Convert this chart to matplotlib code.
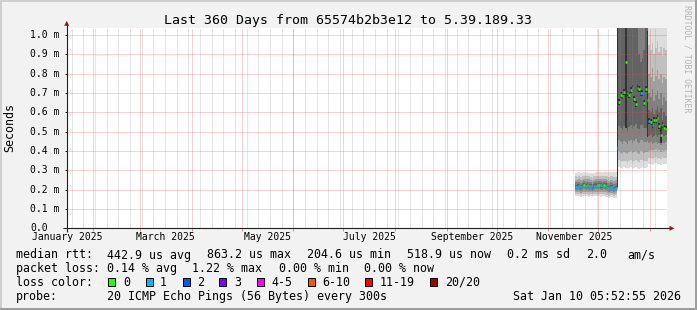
import numpy as np
import pandas as pd
import matplotlib
matplotlib.use("Agg")
import matplotlib.pyplot as plt
import matplotlib.dates as mdates
from matplotlib.patches import Rectangle, Polygon

W, H = 697, 310
MONO = "DejaVu Sans Mono"
plt.rcParams["font.family"] = [MONO, "DejaVu Sans"]

# graph window and plot area (pixels)
t_start = pd.Timestamp("2025-01-16")
t_end = pd.Timestamp("2026-01-11")
X0, X1 = 66.7, 666.7
Y0, Y1 = 228.3, 28.0
y_top = 1.036

title = "Last 360 Days from 65574b2b3e12 to 5.39.189.33"
ylabel = "Seconds"

yticks = [0.0, 0.1, 0.2, 0.3, 0.4, 0.5, 0.6, 0.7, 0.8, 0.9, 1.0]
ytick_labels = ["0.0", "0.1 m", "0.2 m", "0.3 m", "0.4 m", "0.5 m",
                "0.6 m", "0.7 m", "0.8 m", "0.9 m", "1.0 m"]
month_labels = ["January 2025", "March 2025", "May 2025", "July 2025",
                "September 2025", "November 2025"]
month_label_at = ["2025-01-16 12:00", "2025-03-16 12:00", "2025-05-16 12:00",
                  "2025-07-16 12:00", "2025-09-16 12:00", "2025-11-16 12:00"]

# daily values (ms), Nov 17 2025 .. Jan 10 2026 (25 days + 30 days)
first_day = "2025-11-17"
median = [0.214, 0.216, 0.218, 0.213, 0.217, 0.222, 0.220, 0.223, 0.221, 0.219,
          0.205, 0.218, 0.221, 0.222, 0.224, 0.222, 0.220, 0.223, 0.221, 0.210,
          0.207, 0.214, 0.212, 0.203, 0.210,
          0.416, 0.654, 0.689, 0.682, 0.706, 0.862, 0.698, 0.689, 0.717, 0.724,
          0.668, 0.644, 0.727, 0.720, 0.700, 0.700, 0.649, 0.720, 0.665, 0.554,
          0.549, 0.534, 0.561, 0.561, 0.571, 0.530, 0.485, 0.534, 0.520, 0.515]
loss = [1, 1, 1, 1, 1, 0, 1, 0, 1, 1, 1, 1, 1, 0, 0, 1, 1, 0, 1, 0, 1, 1, 1, 1, 1,
        1, 0, 0, 0, 0, 0, 0, 0, 0, 1, 0, 0, 0, 0, 1, 1, 0, 0, 0, 1,
        0, 1, 0, 0, 0, 0, 0, 0, 0, 0]

# smoke envelopes, outer -> inner
lo1 = [0.166, 0.165, 0.168, 0.164, 0.166, 0.167, 0.165, 0.166, 0.163, 0.165,
       0.160, 0.166, 0.167, 0.165, 0.166, 0.164, 0.165, 0.166, 0.163, 0.160,
       0.158, 0.162, 0.160, 0.157, 0.159,
       0.200, 0.318, 0.312, 0.308, 0.315, 0.310, 0.306, 0.312, 0.316, 0.309,
       0.313, 0.318, 0.311, 0.307, 0.314, 0.316, 0.310, 0.312, 0.315, 0.330,
       0.334, 0.328, 0.332, 0.336, 0.330, 0.333, 0.329, 0.335, 0.331, 0.334]
hi1 = [0.288, 0.286, 0.289, 0.285, 0.287, 0.290, 0.288, 0.289, 0.287, 0.286,
       0.284, 0.288, 0.289, 0.290, 0.291, 0.289, 0.288, 0.292, 0.290, 0.291,
       0.289, 0.292, 0.293, 0.290, 0.291,
       1.10, 1.10, 1.10, 1.10, 1.10, 1.10, 1.10, 1.10, 1.10, 1.10,
       1.10, 1.10, 1.10, 1.10, 1.10, 1.10, 1.10, 1.10, 1.10, 1.10,
       1.10, 1.10, 1.10, 1.10, 1.10, 1.10, 1.10, 1.10, 1.10, 1.10]
lo2 = [0.176, 0.175, 0.178, 0.174, 0.177, 0.178, 0.176, 0.177, 0.174, 0.175,
       0.170, 0.177, 0.178, 0.176, 0.177, 0.175, 0.176, 0.177, 0.174, 0.171,
       0.169, 0.173, 0.171, 0.168, 0.170,
       0.203, 0.352, 0.348, 0.343, 0.350, 0.346, 0.340, 0.349, 0.353, 0.345,
       0.350, 0.355, 0.347, 0.342, 0.351, 0.352, 0.346, 0.348, 0.350, 0.362,
       0.366, 0.360, 0.364, 0.368, 0.361, 0.365, 0.360, 0.367, 0.363, 0.366]
hi2 = [0.268, 0.266, 0.269, 0.265, 0.268, 0.271, 0.269, 0.270, 0.268, 0.267,
       0.262, 0.268, 0.270, 0.271, 0.272, 0.270, 0.269, 0.272, 0.270, 0.268,
       0.265, 0.269, 0.268, 0.264, 0.267,
       1.10, 1.10, 1.10, 1.10, 1.10, 1.10, 1.10, 1.10, 1.10, 1.10,
       1.10, 1.10, 1.10, 1.10, 1.10, 1.10, 1.10, 1.10, 1.10, 0.95,
       0.92, 0.96, 0.90, 0.93, 0.97, 0.91, 0.94, 0.89, 0.93, 0.92]
lo3 = [0.187, 0.186, 0.189, 0.185, 0.188, 0.190, 0.188, 0.189, 0.186, 0.187,
       0.181, 0.188, 0.190, 0.189, 0.190, 0.188, 0.188, 0.190, 0.187, 0.182,
       0.180, 0.184, 0.182, 0.178, 0.181,
       0.206, 0.398, 0.392, 0.386, 0.396, 0.390, 0.384, 0.394, 0.400, 0.389,
       0.396, 0.402, 0.392, 0.386, 0.398, 0.399, 0.391, 0.393, 0.395, 0.400,
       0.404, 0.398, 0.403, 0.408, 0.399, 0.404, 0.396, 0.406, 0.401, 0.405]
hi3 = [0.252, 0.251, 0.253, 0.249, 0.252, 0.256, 0.254, 0.256, 0.253, 0.252,
       0.244, 0.252, 0.255, 0.256, 0.257, 0.255, 0.254, 0.257, 0.255, 0.249,
       0.246, 0.251, 0.249, 0.244, 0.248,
       1.10, 1.10, 1.10, 1.10, 1.10, 1.10, 1.10, 1.10, 1.10, 1.10,
       1.10, 1.10, 1.10, 1.10, 1.10, 1.10, 1.10, 1.10, 1.10, 0.80,
       0.78, 0.83, 0.76, 0.79, 0.82, 0.77, 0.80, 0.75, 0.78, 0.77]
lo4 = [0.197, 0.197, 0.199, 0.195, 0.198, 0.201, 0.199, 0.201, 0.198, 0.198,
       0.191, 0.199, 0.201, 0.201, 0.202, 0.200, 0.199, 0.201, 0.199, 0.192,
       0.190, 0.195, 0.193, 0.188, 0.192,
       0.209, 0.455, 0.446, 0.438, 0.452, 0.445, 0.436, 0.450, 0.458, 0.442,
       0.452, 0.460, 0.447, 0.440, 0.455, 0.456, 0.446, 0.448, 0.450, 0.440,
       0.444, 0.436, 0.442, 0.448, 0.438, 0.443, 0.432, 0.446, 0.440, 0.444]
hi4 = [0.239, 0.239, 0.241, 0.236, 0.240, 0.244, 0.242, 0.244, 0.241, 0.240,
       0.231, 0.240, 0.243, 0.244, 0.245, 0.243, 0.242, 0.245, 0.243, 0.235,
       0.232, 0.238, 0.236, 0.230, 0.234,
       1.10, 1.10, 1.10, 1.10, 1.10, 1.10, 1.10, 1.10, 1.10, 1.10,
       1.10, 1.10, 1.10, 1.10, 1.10, 1.10, 1.10, 1.10, 1.10, 0.70,
       0.68, 0.72, 0.66, 0.69, 0.71, 0.67, 0.70, 0.64, 0.68, 0.66]
lo5 = [0.206, 0.207, 0.209, 0.204, 0.208, 0.212, 0.210, 0.212, 0.210, 0.209,
       0.198, 0.209, 0.211, 0.212, 0.214, 0.211, 0.210, 0.213, 0.211, 0.201,
       0.198, 0.205, 0.203, 0.196, 0.202,
       0.212, 0.530, 0.520, 0.508, 0.528, 0.520, 0.505, 0.524, 0.535, 0.515,
       0.528, 0.538, 0.520, 0.512, 0.532, 0.534, 0.518, 0.520, 0.522, 0.475,
       0.480, 0.470, 0.478, 0.485, 0.472, 0.480, 0.465, 0.482, 0.476, 0.480]
hi5 = [0.226, 0.227, 0.229, 0.224, 0.228, 0.233, 0.231, 0.233, 0.230, 0.229,
       0.215, 0.229, 0.232, 0.233, 0.235, 0.232, 0.230, 0.234, 0.232, 0.221,
       0.218, 0.225, 0.223, 0.214, 0.220,
       1.10, 1.10, 1.10, 1.10, 1.10, 1.10, 1.10, 1.10, 1.10, 1.10,
       1.10, 1.10, 1.10, 0.90, 0.86, 0.88, 0.92, 1.10, 1.10, 0.61,
       0.60, 0.62, 0.59, 0.61, 0.63, 0.60, 0.62, 0.56, 0.60, 0.58]

# darkest core, Dec 12 .. Jan 10 only
core_first_day = "2025-12-12"
core_lo = [0.215, 0.640, 0.672, 0.668, 0.690, 0.520, 0.682, 0.672, 0.700, 0.708,
           0.652, 0.628, 0.710, 0.704, 0.685, 0.685, 0.632, 0.704, 0.470, 0.540,
           0.535, 0.520, 0.547, 0.547, 0.557, 0.516, 0.440, 0.520, 0.506, 0.502]
core_hi = [1.100, 0.668, 0.704, 0.696, 0.720, 1.100, 0.712, 0.704, 0.732, 0.740,
           0.684, 0.660, 0.742, 0.736, 0.716, 0.716, 0.664, 0.736, 1.020, 0.568,
           0.563, 0.548, 0.575, 0.575, 0.585, 0.544, 0.530, 0.548, 0.534, 0.528]

smoke_colors = ["#dddddd", "#c0c0c0", "#a0a0a0", "#808080", "#636363"]
core_color = "#333333"

loss_names = ["0", "1", "2", "3", "4-5", "6-10", "11-19", "20/20"]
loss_colors = ["#26ff00", "#00b8ff", "#0059ff", "#7e00ff", "#ff00ff",
               "#ff5500", "#ff0000", "#a10000"]
loss_box_x = [108.3, 145.5, 182.5, 219.3, 256.5, 307.5, 365.0, 430.0]
loss_text_x = [123.0, 160.0, 197.0, 234.0, 271.0, 322.0, 380.0, 445.0]

rtt_row = [("median rtt:", 16), ("442.9 us avg", 107), ("863.2 us max", 207),
           ("204.6 us min", 307), ("518.9 us now", 407), ("0.2 ms sd", 507),
           ("2.0", 586), ("am/s", 627.5)]
loss_row = [("packet loss:", 16), ("0.14 % avg", 107), ("1.22 % max", 192),
            ("0.00 % min", 279), ("0.00 % now", 364)]
probe_text = "20 ICMP Echo Pings (56 Bytes) every 300s"
stamp = "Sat Jan 10 05:52:55 2026"

fig = plt.figure(figsize=(W / 100, H / 100), dpi=100, facecolor="#f2f2f2")
ax = fig.add_axes([X0 / W, 1 - Y0 / H, (X1 - X0) / W, (Y0 - Y1) / H])
ax.set_facecolor("white")
num = lambda t: mdates.date2num(pd.to_datetime(t).to_pydatetime())
ax.set_xlim(num(t_start), num(t_end))
ax.set_ylim(0, y_top)
for s in ax.spines.values():
    s.set_visible(False)

# smoke
edges = num(pd.date_range(first_day, periods=len(median) + 1, freq="D"))
bands = [(lo1, hi1), (lo2, hi2), (lo3, hi3), (lo4, hi4), (lo5, hi5)]
for (lo, hi), c in zip(bands, smoke_colors):
    ax.fill_between(edges, lo + lo[-1:], hi + hi[-1:], step="post",
                    color=c, lw=0, zorder=2)
core_edges = num(pd.date_range(core_first_day, periods=len(core_lo) + 1, freq="D"))
ax.fill_between(core_edges, core_lo + core_lo[-1:], core_hi + core_hi[-1:],
                step="post", color=core_color, lw=0, zorder=3)

# grid: 1-on-1-off dots
dots = (0, (1, 1))
for v in yticks[1:]:
    ax.axhline(v, color="#de4f4f", alpha=0.5, lw=0.72, ls=dots, zorder=5)
for t in pd.date_range(t_start, t_end, freq="W-SUN"):
    ax.axvline(num(t), color="#8f8f8f", alpha=0.45, lw=0.72, ls=dots, zorder=4)
months = pd.date_range("2025-02-01", "2026-01-01", freq="MS")
for t in months:
    ax.axvline(num(t), color="#de4f4f", alpha=0.5, lw=0.72, ls=dots, zorder=5)

# median, coloured by loss
ax.hlines(median, edges[:-1], edges[1:], colors=[loss_colors[l] for l in loss],
          lw=1.8, zorder=6, capstyle="butt")

# ticks and labels
ax.set_yticks(yticks)
ax.set_xticks(num(months))
ax.tick_params(axis="y", length=1.8, width=0.72, color="#1f1f1f",
               labelleft=False)
ax.tick_params(axis="x", length=1.8, width=0.72, color=(0.87, 0.31, 0.31, 0.6),
               labelbottom=False)
for v, lab in zip(yticks, ytick_labels):
    ax.text((30.5 - X0) / (X1 - X0), v, lab, transform=ax.get_yaxis_transform(),
            ha="left", va="center", size=7.05, family=MONO)
for t, lab in zip(month_label_at, month_labels):
    ax.text(num(t), (Y0 - 240.5) / (Y0 - Y1), lab,
            transform=ax.get_xaxis_transform(), ha="center", va="baseline",
            size=7.05, family=MONO)

# axes with arrows
axis_col = "#1f1f1f"
ax.plot([(63 - X0) / (X1 - X0), (671 - X0) / (X1 - X0)], [0, 0],
        transform=ax.transAxes, color=axis_col, lw=0.8, clip_on=False,
        solid_capstyle="butt", zorder=7)
ax.plot([0, 0], [(Y0 - 231.5) / (Y0 - Y1), (Y0 - 24) / (Y0 - Y1)],
        transform=ax.transAxes, color=axis_col, lw=0.8, clip_on=False,
        solid_capstyle="butt", zorder=7)
arrow_col = "#801f1f"
fig.add_artist(Polygon([(669.5, H - 225.8), (669.5, H - 230.8), (674.5, H - 228.3)],
                       closed=True, transform=None, color=arrow_col, lw=0))
fig.add_artist(Polygon([(64.2, H - 25.8), (69.2, H - 25.8), (66.7, H - 20.8)],
                       closed=True, transform=None, color=arrow_col, lw=0))


def ftext(x, y, s, **kw):
    fig.text(x / W, 1 - y / H, s, family=MONO, **kw)


ftext(348.5, 24, title, ha="center", va="baseline", size=9.55)
ftext(10, 128, ylabel, rotation=90, ha="center", va="center", size=8.35)
ftext(687.5, 5, "RRDTOOL / TOBI OETIKER", rotation=270, ha="center", va="top",
      size=5.9, color="#b4b4b4")

for s, x in rtt_row:
    ftext(x, 258.5, s, ha="left", va="baseline", size=8.35)
for s, x in loss_row:
    ftext(x, 272.2, s, ha="left", va="baseline", size=8.35)
ftext(16, 285.9, "loss color:", ha="left", va="baseline", size=8.35)
for name, c, bx, tx in zip(loss_names, loss_colors, loss_box_x, loss_text_x):
    fig.add_artist(Rectangle((bx / W, 1 - 285.7 / H), 7.0 / W, 8.0 / H,
                             transform=fig.transFigure, facecolor=c,
                             edgecolor="black", lw=0.72))
    ftext(tx, 285.9, name, ha="left", va="baseline", size=8.35)
ftext(16, 299.6, "probe:", ha="left", va="baseline", size=8.35)
ftext(107, 299.6, probe_text, ha="left", va="baseline", size=8.35)
ftext(681, 299.6, stamp, ha="right", va="baseline", size=8.35)

# bevelled frame
for (x, y, w, h), c in [((0, 0, W, 2), "#cfcfcf"), ((0, 0, 2, H), "#cfcfcf"),
                        ((0, H - 2, W, 2), "#9e9e9e"), ((W - 2, 0, 2, H), "#9e9e9e")]:
    fig.add_artist(Rectangle((x / W, 1 - (y + h) / H), w / W, h / H,
                             transform=fig.transFigure, color=c, lw=0))

fig.savefig("out.png", dpi=100, facecolor=fig.get_facecolor())
